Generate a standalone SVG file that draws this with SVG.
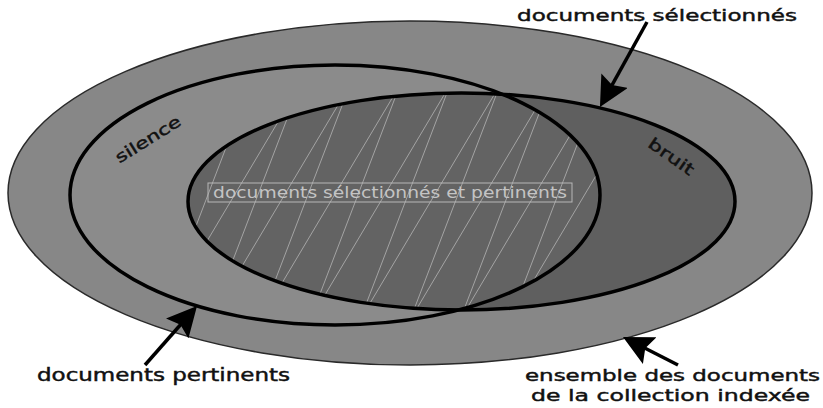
<svg xmlns="http://www.w3.org/2000/svg" width="823" height="408" viewBox="0 0 823 408">
  <style>
    .lbl { font-family: "DejaVu Sans", "Liberation Sans", sans-serif; fill: #111; stroke: #111; stroke-width: 0.45; }
    .ring { stroke: #000; stroke-width: 3.5; fill: none; }
    .hatch { stroke: #b4b4b4; stroke-width: 1; fill: none; opacity: 0.8; }
    .arrow { stroke: #000; stroke-width: 3.5; fill: none; marker-end: url(#head); }
  </style>
  <defs>
    <marker id="head" viewBox="0 0 30 30" refX="20" refY="15" markerWidth="30" markerHeight="30" markerUnits="userSpaceOnUse" orient="auto">
      <path d="M0,0 L30,15 L0,30 L5,15 z" fill="#000"/>
    </marker>
    <clipPath id="clipRel">
      <ellipse cx="335" cy="195" rx="265" ry="130"/>
    </clipPath>
    <clipPath id="clipSel">
      <ellipse cx="461.5" cy="201.5" rx="273.5" ry="108.5"/>
    </clipPath>
  </defs>
  <rect width="823" height="408" fill="#ffffff"/>

  <g id="collection">
    <ellipse cx="410" cy="193" rx="402" ry="172" fill="#878787" stroke="#2a2a2a" stroke-width="1.5"/>
  </g>

  <g id="pertinents">
    <ellipse cx="335" cy="195" rx="265" ry="130" fill="#8b8b8b"/>
  </g>

  <g id="selectionnes">
    <ellipse cx="461.5" cy="201.5" rx="273.5" ry="108.5" fill="#5f5f5f"/>
  </g>

  <g id="intersection" clip-path="url(#clipRel)">
    <g clip-path="url(#clipSel)">
      <rect x="180" y="85" width="430" height="235" fill="#636363"/>
      <polyline class="hatch" points="110,320 250,85 160,320 300,85 210,320 350,85 260,320 400,85 310,320 450,85 360,320 500,85 410,320 550,85 460,320 600,85 510,320 650,85 560,320 700,85"/>
    </g>
  </g>

  <g id="outlines">
    <ellipse class="ring" cx="335" cy="195" rx="265" ry="130"/>
    <ellipse class="ring" cx="461.5" cy="201.5" rx="273.5" ry="108.5"/>
  </g>

  <g id="center-label">
    <rect x="208" y="183" width="364" height="19" fill="none" stroke="#b8b8b8" stroke-width="1"/>
    <text x="390" y="197.5" text-anchor="middle" font-family="DejaVu Sans, Liberation Sans, sans-serif" font-size="15" fill="#c4c4c4" textLength="354" lengthAdjust="spacingAndGlyphs">documents sélectionnés et pertinents</text>
  </g>

  <g id="region-labels">
    <text class="lbl" font-size="16" text-anchor="middle" transform="translate(151,144) rotate(-32)" textLength="74" lengthAdjust="spacingAndGlyphs">silence</text>
    <text class="lbl" font-size="16" text-anchor="middle" transform="translate(668,161) rotate(35)" textLength="52" lengthAdjust="spacingAndGlyphs">bruit</text>
  </g>

  <g id="connectors">
    <line class="arrow" x1="647" y1="22" x2="604.8" y2="98.2"/>
    <line class="arrow" x1="145" y1="365" x2="190.4" y2="313.5"/>
    <line class="arrow" x1="678" y1="365" x2="631.9" y2="341.5"/>
  </g>

  <g id="labels">
    <text class="lbl" x="517" y="21" font-size="16.5" textLength="280" lengthAdjust="spacingAndGlyphs">documents sélectionnés</text>
    <text class="lbl" x="37" y="380.5" font-size="17" textLength="253" lengthAdjust="spacingAndGlyphs">documents pertinents</text>
    <text class="lbl" x="525" y="381" font-size="16.5" textLength="295" lengthAdjust="spacingAndGlyphs">ensemble des documents</text>
    <text class="lbl" x="531" y="401" font-size="16.5" textLength="279" lengthAdjust="spacingAndGlyphs">de la collection indexée</text>
  </g>
</svg>
